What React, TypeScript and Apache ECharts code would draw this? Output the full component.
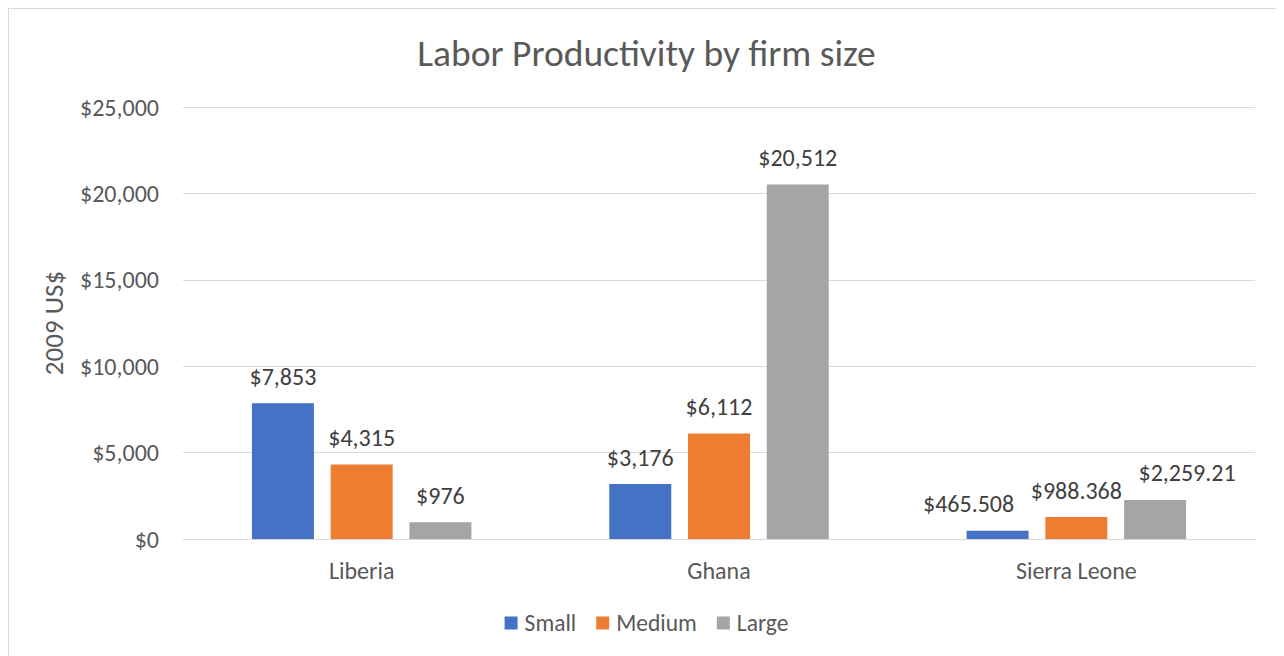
import React, { useEffect, useRef } from "react";
import * as echarts from "echarts";

const categories = ["Liberia", "Ghana", "Sierra Leone"];
const seriesNames = ["Small", "Medium", "Large"];
const smallValues = [7853, 3176, 480];
const mediumValues = [4315, 6112, 1270];
const largeValues = [976, 20512, 2259.21];
const smallLabels = ["$7,853", "$3,176", "$465.508"];
const mediumLabels = ["$4,315", "$6,112", "$988.368"];
const largeLabels = ["$976", "$20,512", "$2,259.21"];
const yTicks = [0, 5000, 10000, 15000, 20000, 25000];
const colors = ["#4472C4", "#ED7D31", "#A5A5A5"];

const FONT = "Carlito, Calibri, Lato, sans-serif";

export default function App() {
  const ref = useRef<HTMLDivElement>(null);
  useEffect(() => {
    if (!ref.current) return;
    const chart = echarts.init(ref.current, undefined, { renderer: "svg" });
    const values = [smallValues, mediumValues, largeValues];
    const labels = [smallLabels, mediumLabels, largeLabels];
    // Excel nudged the crowded Sierra Leone labels apart horizontally
    const nudge = (i: number, j: number) =>
      j === 2 && i === 0 ? [-29, 0] : j === 2 && i === 2 ? [32, 0] : [0, 0];
    chart.setOption({
      animation: false,
      textStyle: { fontFamily: FONT },
      title: {
        text: "Labor Productivity by firm size",
        left: "center",
        top: 20,
        textStyle: { fontFamily: FONT, fontSize: 37.5, fontWeight: "normal", color: "#595959" },
      },
      legend: {
        data: seriesNames,
        left: "center",
        top: 597,
        itemWidth: 13,
        itemHeight: 13,
        itemGap: 20,
        icon: "rect",
        textStyle: { fontFamily: FONT, fontSize: 23.5, color: "#595959", padding: [0, 0, 0, 2] },
      },
      grid: { left: 174, top: 98, width: 1072, height: 432, containLabel: false },
      xAxis: {
        type: "category",
        data: categories,
        axisLine: { lineStyle: { color: "#d9d9d9", width: 1 } },
        axisTick: { show: false },
        axisLabel: { fontFamily: FONT, fontSize: 24, color: "#595959", margin: 19 },
      },
      yAxis: {
        type: "value",
        min: yTicks[0],
        max: yTicks[yTicks.length - 1],
        interval: 5000,
        name: "2009 US$",
        nameLocation: "middle",
        nameGap: 116,
        nameTextStyle: { fontFamily: FONT, fontSize: 27, color: "#595959" },
        axisLine: { show: false },
        axisTick: { show: false },
        splitLine: { lineStyle: { color: "#d9d9d9", width: 1 } },
        axisLabel: {
          fontFamily: FONT,
          fontSize: 24,
          color: "#595959",
          margin: 24,
          formatter: (v: number) => "$" + v.toLocaleString("en-US"),
        },
      },
      series: seriesNames.map((name, i) => ({
        name,
        type: "bar",
        barWidth: 62,
        barGap: "27%",
        itemStyle: { color: colors[i] },
        data: values[i].map((v, j) => ({ value: v, label: { offset: nudge(i, j) } })),
        label: {
          show: true,
          position: "top",
          distance: 15,
          fontFamily: FONT,
          fontSize: 24,
          color: "#404040",
          formatter: (p: any) => labels[i][p.dataIndex],
        },
      })),
    });
    return () => chart.dispose();
  }, []);
  return (
    <div
      style={{
        width: 1276,
        height: 648,
        borderLeft: "1px solid #d9d9d9",
        borderTop: "1px solid #d9d9d9",
        boxSizing: "border-box",
        overflow: "hidden",
      }}
    >
      <div ref={ref} style={{ width: 1275, height: 647 }} />
    </div>
  );
}
